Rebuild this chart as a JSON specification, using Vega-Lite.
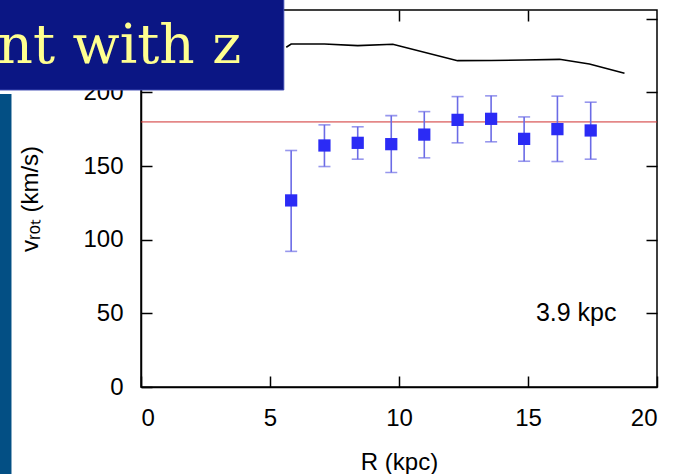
{
  "$schema": "https://vega.github.io/schema/vega-lite/v6.json",
  "autosize": {"type": "none"},
  "width": 516,
  "height": 377,
  "padding": {"left": 141, "top": 10, "right": 18, "bottom": 87},
  "background": "white",
  "config": {
    "view": {"stroke": "black", "strokeWidth": 1.5},
    "font": "Liberation Sans"
  },
  "datasets": {
    "vrot": [
      {"R": 5.82, "v": 126.7, "lo": 92.1, "hi": 160.6},
      {"R": 7.11, "v": 164.0, "lo": 149.7, "hi": 178.0},
      {"R": 8.40, "v": 165.8, "lo": 154.7, "hi": 176.7},
      {"R": 9.70, "v": 164.9, "lo": 145.7, "hi": 184.3},
      {"R": 10.98, "v": 171.4, "lo": 155.6, "hi": 187.0},
      {"R": 12.27, "v": 181.4, "lo": 165.8, "hi": 197.2},
      {"R": 13.57, "v": 182.1, "lo": 166.5, "hi": 197.7},
      {"R": 14.85, "v": 168.5, "lo": 153.3, "hi": 183.4},
      {"R": 16.14, "v": 175.1, "lo": 153.1, "hi": 197.5},
      {"R": 17.43, "v": 174.2, "lo": 154.7, "hi": 193.4}
    ],
    "curve": [
      {"R": 5.63, "v": 230.7},
      {"R": 5.82, "v": 232.9},
      {"R": 7.11, "v": 232.9},
      {"R": 8.40, "v": 231.8},
      {"R": 9.76, "v": 232.7},
      {"R": 12.27, "v": 221.6},
      {"R": 13.57, "v": 221.7},
      {"R": 14.85, "v": 222.0},
      {"R": 16.22, "v": 222.5},
      {"R": 17.38, "v": 219.3},
      {"R": 18.74, "v": 213.0}
    ],
    "one": [{}]
  },
  "layer": [
    {
      "data": {"name": "curve"},
      "mark": {"type": "line", "color": "black", "strokeWidth": 1.6},
      "encoding": {
        "x": {"field": "R", "type": "quantitative", "scale": {"domain": [0, 20], "nice": false, "zero": false},
              "axis": {"orient": "top", "values": [5, 10, 15], "labels": false, "title": null, "domain": false, "grid": false,
                       "ticks": true, "tickSize": -11, "tickWidth": 1.5, "tickColor": "black"}},
        "y": {"field": "v", "type": "quantitative", "scale": {"domain": [0, 256], "nice": false},
              "axis": {"orient": "right", "values": [50, 100, 150, 200, 250], "labels": false, "title": null, "domain": false, "grid": false,
                       "ticks": true, "tickSize": -11, "tickWidth": 1.5, "tickColor": "black"}}
      }
    },
    {
      "data": {"name": "one"},
      "mark": {"type": "rule", "color": "#d03030", "strokeWidth": 1},
      "encoding": {"y": {"datum": 180, "type": "quantitative", "axis": null}}
    },
    {
      "data": {"name": "vrot"},
      "mark": {"type": "errorbar", "color": "#6b6be6", "thickness": 1.6, "ticks": {"size": 12, "thickness": 1.6}},
      "encoding": {
        "x": {"field": "R", "type": "quantitative", "axis": null},
        "y": {"field": "lo", "type": "quantitative", "axis": null},
        "y2": {"field": "hi"}
      }
    },
    {
      "data": {"name": "vrot"},
      "mark": {"type": "point", "shape": "square", "filled": true, "size": 150, "color": "#2b2bf5", "opacity": 1},
      "encoding": {
        "x": {"field": "R", "type": "quantitative", "title": "R (kpc)",
              "axis": {"orient": "bottom", "values": [0, 5, 10, 15, 20], "grid": false,
                       "domainColor": "black", "domainWidth": 1.5, "tickColor": "black", "tickWidth": 1.5, "tickSize": -11,
                       "labelPadding": 30, "labelFont": "Liberation Sans", "labelFontSize": 24, "labelColor": "black",
                       "titleFont": "Liberation Sans", "titleFontSize": 24, "titleFontWeight": "normal", "titleColor": "black", "titlePadding": 20}},
        "y": {"field": "v", "type": "quantitative", "title": "vᵣₒₜ (km/s)",
              "axis": {"orient": "left", "values": [0, 50, 100, 150, 200], "grid": false,
                       "domainColor": "black", "domainWidth": 1.5, "tickColor": "black", "tickWidth": 1.5, "tickSize": -11,
                       "labelPadding": 29, "labelFont": "Liberation Sans", "labelFontSize": 24, "labelColor": "black",
                       "titleFont": "Liberation Sans", "titleFontSize": 24, "titleFontWeight": "normal", "titleColor": "black", "titlePadding": 40}}
      }
    },
    {
      "data": {"name": "one"},
      "mark": {"type": "text", "text": "3.9 kpc", "fontSize": 25, "align": "right", "baseline": "middle", "color": "black", "font": "Liberation Sans"},
      "encoding": {
        "x": {"datum": 18.43, "type": "quantitative", "axis": null},
        "y": {"datum": 50, "type": "quantitative", "axis": null}
      }
    },
    {
      "data": {"name": "one"},
      "mark": {"type": "rect", "color": "#034f84"},
      "encoding": {
        "x": {"datum": -5.49, "type": "quantitative", "axis": null},
        "x2": {"datum": -5.02},
        "y": {"datum": -63, "type": "quantitative", "axis": null},
        "y2": {"datum": 199}
      }
    },
    {
      "data": {"name": "one"},
      "mark": {"type": "rect", "color": "#0b1684", "stroke": "#3a46b0", "strokeWidth": 1},
      "encoding": {
        "x": {"datum": -6, "type": "quantitative", "axis": null},
        "x2": {"datum": 5.535},
        "y": {"datum": 201.7, "type": "quantitative", "axis": null},
        "y2": {"datum": 268}
      }
    },
    {
      "data": {"name": "one"},
      "mark": {"type": "text", "text": "nt with z", "fontSize": 55, "font": "DejaVu Serif", "align": "left", "baseline": "alphabetic", "color": "#ffff90"},
      "encoding": {
        "x": {"datum": -5.56, "type": "quantitative", "axis": null},
        "y": {"datum": 220, "type": "quantitative", "axis": null}
      }
    }
  ],
  "resolve": {"axis": {"x": "independent", "y": "independent"}}
}
